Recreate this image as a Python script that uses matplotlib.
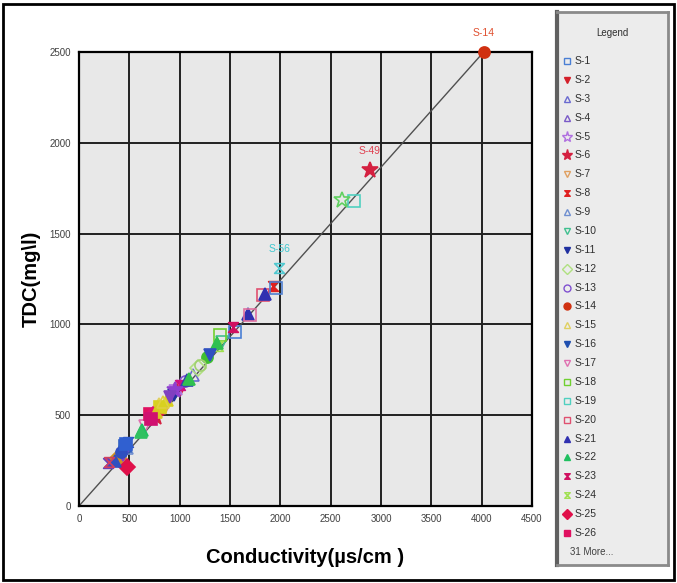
import numpy as np
import matplotlib
matplotlib.use("Agg")
import matplotlib.pyplot as plt
from matplotlib.path import Path
from matplotlib.patches import Rectangle

plt.rcParams['font.family'] = ['Liberation Sans', 'DejaVu Sans']

# samples S-1 .. S-57 : conductivity (us/cm) and TDC (mg/l)
names = ['S-%d' % i for i in range(1, 58)]
cond = [1550, 1000, 1130, 420, 975, 760, 850, 1930, 480, 1420,
        940, 1180, 1050, 4020, 790, 460, 660, 1405, 2730, 1830,
        1680, 627, 1530, 1380, 478, 707, 1850, 289, 388, 360,
        488, 458, 440, 1375, 1275, 1205, 807, 876, 1000, 1075,
        1090, 737, 760, 1700, 950, 1960, 2610, 1300, 2890, 620,
        300, 420, 720, 830, 900, 1990, 470]
tdc = [960, 640, 720, 270, 650, 490, 540, 1210, 320, 905,
       610, 760, 690, 2500, 560, 300, 440, 940, 1680, 1160,
       1060, 418, 985, 880, 215, 505, 1165, 237, 264, 250,
       352, 330, 280, 897, 820, 776, 545, 584, 665, 694,
       700, 501, 520, 1050, 640, 1200, 1685, 830, 1850, 410,
       245, 300, 480, 570, 600, 1310, 340]
labelled = ['S-14', 'S-49', 'S-56']

hg = Path([(-1, 1), (1, 1), (0, 0), (1, -1), (-1, -1), (0, 0), (-1, 1)],
          [Path.MOVETO] + [Path.LINETO] * 5 + [Path.CLOSEPOLY])

# marker, colour, filled
styles = [
    ('s', '#4a7fd4', False), ('v', '#d4202a', True), ('^', '#6a6ad0', False),
    ('^', '#7a5ac8', False), ('*', '#b070e0', False), ('*', '#d42040', True),
    ('v', '#e0a060', False), (hg, '#e02020', True), ('^', '#7090d0', False),
    ('v', '#40c090', False), ('v', '#2030a0', True), ('D', '#b0e080', False),
    ('o', '#8050d0', False), ('o', '#d03010', True), ('^', '#e0d060', False),
    ('v', '#2050b0', True), ('v', '#e070b0', False), ('s', '#70d030', False),
    ('s', '#50d0c0', False), ('s', '#e05070', False), ('^', '#3030b0', True),
    ('^', '#20c060', True), (hg, '#d01060', True), (hg, '#a0e050', False),
    ('D', '#e0104a', True), ('s', '#e01060', True),
    ('^', '#3030b0', True), (hg, '#6040c0', True), ('D', '#d09020', True),
    ('^', '#3050c0', True), (hg, '#3050c0', True), ('s', '#3060c0', True),
    ('v', '#8040d0', True), ('^', '#30c050', True), ('o', '#40c030', True),
    ('o', '#a0d070', False), ('s', '#d8d020', True), ('^', '#d8d020', True),
    (hg, '#d01080', True), ('^', '#3040b0', True), ('^', '#30c050', True),
    ('D', '#e01070', True), ('^', '#d8c820', True), ('s', '#e070a0', False),
    ('*', '#9040d0', True), ('s', '#5080d0', False), ('*', '#60d060', False),
    ('v', '#3050c0', True), ('*', '#d42040', True), ('^', '#30c060', True),
    (hg, '#d04060', False), ('o', '#3050c0', True), ('s', '#d01070', True),
    ('^', '#e0d040', False), ('v', '#8040c0', True), (hg, '#50c8d0', False),
    ('s', '#3060d0', True),
]

W, H = 677, 583
fig = plt.figure(figsize=(W / 100, H / 100), dpi=100)
fig.patches.append(Rectangle((3 / W, 3 / H), 671 / W, 576 / H, transform=fig.transFigure,
                             fill=False, edgecolor='black', lw=2))

ax = fig.add_axes([79 / W, (H - 506) / H, 453 / W, 454 / H])
ax.set_facecolor('#e8e8e8')
ax.set_xlim(0, 4500)
ax.set_ylim(0, 2500)
ax.set_xticks(np.arange(0, 4501, 500))
ax.set_yticks(np.arange(0, 2501, 500))
ax.grid(True, color='#202020', lw=1.4)
ax.set_axisbelow(True)
for s in ax.spines.values():
    s.set_linewidth(1.6)
ax.tick_params(length=0, labelsize=7, colors='#404040', pad=6)

i14 = names.index('S-14')
ax.plot([0, cond[i14]], [0, tdc[i14]], color='#505050', lw=1, zorder=2)

for i in range(len(names)):
    m, c, f = styles[i]
    ms = 12 if m == '*' else 8
    if m == hg:
        ms = 7
    ax.plot(cond[i], tdc[i], marker=m, ms=ms, ls='none', zorder=3,
            markerfacecolor=c if f else 'none', markeredgecolor=c, mew=1.2, clip_on=False)

lab_col = {'S-14': '#e05030', 'S-49': '#e04050', 'S-56': '#40c8d0'}
for n in labelled:
    i = names.index(n)
    ax.annotate(n, (cond[i], tdc[i]), xytext=(0, 10), textcoords='offset points',
                ha='center', va='bottom', fontsize=7.5, color=lab_col[n])

ax.set_xlabel('Conductivity(µs/cm )', fontsize=14.5, fontweight='bold', labelpad=17)
ax.set_ylabel('TDC(mg\\l)', fontsize=14.5, fontweight='bold', labelpad=6)

# legend box
lax = fig.add_axes([557 / W, (H - 565) / H, 111 / W, 553 / H])
lax.set_facecolor('#ececec')
lax.set_xlim(557, 668)
lax.set_ylim(565, 12)
lax.set_xticks([])
lax.set_yticks([])
for s in lax.spines.values():
    s.set_color('#8a8a8a')
    s.set_linewidth(2)
lax.spines['left'].set_color('#606060')
lax.spines['left'].set_linewidth(3)
lax.text(612, 33, 'Legend', ha='center', va='center', fontsize=7, color='#303030')
for i in range(26):
    m, c, f = styles[i]
    y = 61 + i * 18.88
    ms = 8 if m == '*' else 5
    if m == hg:
        ms = 4
    lax.plot(567, y, marker=m, ms=ms, ls='none',
             markerfacecolor=c if f else 'none', markeredgecolor=c, mew=1)
    lax.text(575, y, names[i], ha='left', va='center', fontsize=7.5, color='#303030')
lax.text(570, 552, '%d More...' % (len(names) - 26), ha='left', va='center',
         fontsize=7, color='#404040')

fig.savefig('out.png', dpi=100)
